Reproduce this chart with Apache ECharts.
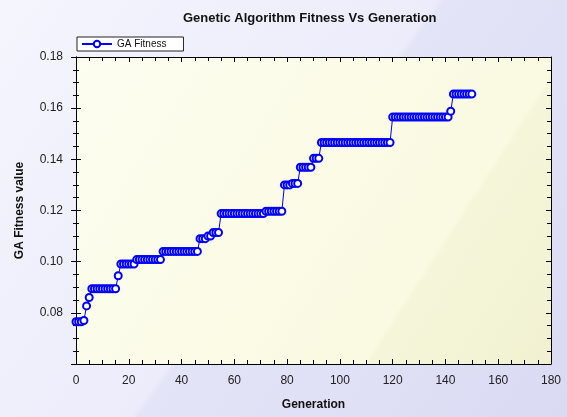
<!DOCTYPE html>
<html>
<head>
<meta charset="utf-8">
<script src="https://cdn.jsdelivr.net/npm/echarts@6/dist/echarts.min.js"></script>
<style>
  html, body { margin: 0; padding: 0; }
  #chart { width: 567px; height: 417px; }
</style>
</head>
<body>
<div id="chart"></div>
<script>
  // GA fitness per generation (0..150)
  const fitness = [
    0.0765, 0.0765, 0.0765, 0.0770, 0.0827, 0.0860, 0.0894, 0.0894, 0.0894, 0.0894,
    0.0894, 0.0894, 0.0894, 0.0894, 0.0894, 0.0894, 0.0945, 0.0991, 0.0991, 0.0991,
    0.0991, 0.0991, 0.0991, 0.1008, 0.1008, 0.1008, 0.1008, 0.1008, 0.1008, 0.1008,
    0.1008, 0.1008, 0.1008, 0.1040, 0.1040, 0.1040, 0.1040, 0.1040, 0.1040, 0.1040,
    0.1040, 0.1040, 0.1040, 0.1040, 0.1040, 0.1040, 0.1040, 0.1090, 0.1090, 0.1090,
    0.1100, 0.1100, 0.1114, 0.1114, 0.1114, 0.1188, 0.1188, 0.1188, 0.1188, 0.1188,
    0.1188, 0.1188, 0.1188, 0.1188, 0.1188, 0.1188, 0.1188, 0.1188, 0.1188, 0.1188,
    0.1188, 0.1188, 0.1197, 0.1197, 0.1197, 0.1197, 0.1197, 0.1197, 0.1197, 0.1300,
    0.1300, 0.1300, 0.1306, 0.1306, 0.1306, 0.1369, 0.1369, 0.1369, 0.1369, 0.1369,
    0.1404, 0.1404, 0.1404, 0.1466, 0.1466, 0.1466, 0.1466, 0.1466, 0.1466, 0.1466,
    0.1466, 0.1466, 0.1466, 0.1466, 0.1466, 0.1466, 0.1466, 0.1466, 0.1466, 0.1466,
    0.1466, 0.1466, 0.1466, 0.1466, 0.1466, 0.1466, 0.1466, 0.1466, 0.1466, 0.1466,
    0.1565, 0.1565, 0.1565, 0.1565, 0.1565, 0.1565, 0.1565, 0.1565, 0.1565, 0.1565,
    0.1565, 0.1565, 0.1565, 0.1565, 0.1565, 0.1565, 0.1565, 0.1565, 0.1565, 0.1565,
    0.1565, 0.1565, 0.1588, 0.1655, 0.1655, 0.1655, 0.1655, 0.1655, 0.1655, 0.1655,
    0.1655
  ];
  const generations = fitness.map((_, i) => i);

  const chart = echarts.init(document.getElementById('chart'));
  const font = 'Liberation Sans, Arial, sans-serif';
  const black = '#000';

  const xCommon = {
    type: 'value',
    min: 0,
    max: 180,
    interval: 20,
    splitLine: { show: false },
    axisLine: { show: true, onZero: false, lineStyle: { color: black, width: 1 } },
  };
  const yCommon = {
    type: 'value',
    min: 0.06,
    max: 0.18,
    interval: 0.02,
    splitLine: { show: false },
    axisLine: { show: true, onZero: false, lineStyle: { color: black, width: 1 } },
  };

  chart.setOption({
    backgroundColor: new echarts.graphic.LinearGradient(0, 0, 1, 1, [
      { offset: 0, color: '#f5f5fe' },
      { offset: 0.5, color: '#ececfb' },
      { offset: 0.51, color: '#e4e4f8' },
      { offset: 1, color: '#dadaf3' },
    ]),
    textStyle: { fontFamily: font },
    animation: false,
    title: {
      text: 'Genetic Algorithm Fitness Vs Generation',
      left: 178,
      top: 7,
      textStyle: { fontSize: 13, fontWeight: 'bold', color: '#111', fontFamily: font },
    },
    legend: {
      left: 77,
      top: 37,
      padding: [2, 17, 2, 4],
      itemWidth: 30,
      itemHeight: 8,
      itemGap: 4,
      backgroundColor: '#fff',
      borderColor: '#222',
      borderWidth: 1,
      borderRadius: 0,
      textStyle: { fontSize: 10, color: '#111', fontFamily: font },
      data: ['GA Fitness'],
    },
    grid: {
      left: 76,
      right: 16,
      top: 57,
      bottom: 53,
      show: true,
      borderWidth: 0,
      backgroundColor: new echarts.graphic.LinearGradient(0, 0, 1, 1, [
        { offset: 0, color: '#fdfdf0' },
        { offset: 0.72, color: '#fafae2' },
        { offset: 0.73, color: '#f5f5d9' },
        { offset: 1, color: '#f1f1d2' },
      ]),
    },
    xAxis: [
      {
        ...xCommon,
        position: 'bottom',
        name: 'Generation',
        nameLocation: 'middle',
        nameGap: 35,
        nameTextStyle: { fontSize: 12, fontWeight: 'bold', color: '#111', fontFamily: font },
        axisTick: { show: true, inside: true, length: 5, lineStyle: { color: black } },
        minorTick: { show: true, splitNumber: 4, length: 4, lineStyle: { color: black } },
        axisLabel: { fontSize: 12, color: '#222', margin: 11 },
      },
      {
        ...xCommon,
        position: 'top',
        axisTick: { show: true, inside: true, length: 5, lineStyle: { color: black } },
        minorTick: { show: true, splitNumber: 4, length: 4, lineStyle: { color: black } },
        axisLabel: { show: false },
      },
    ],
    yAxis: [
      {
        ...yCommon,
        position: 'left',
        name: 'GA Fitness value',
        nameLocation: 'middle',
        nameGap: 50,
        nameTextStyle: { fontSize: 12, fontWeight: 'bold', color: '#111', fontFamily: font },
        axisTick: { show: true, inside: false, length: 5, lineStyle: { color: black } },
        minorTick: { show: true, splitNumber: 4, length: 3, lineStyle: { color: black } },
        axisLabel: {
          fontSize: 12,
          color: '#222',
          margin: 13,
          showMinLabel: false,
          formatter: v => v.toFixed(2),
        },
      },
      {
        ...yCommon,
        position: 'left',
        axisTick: { show: true, inside: true, length: 5, lineStyle: { color: black } },
        minorTick: { show: true, splitNumber: 4, length: 3, lineStyle: { color: black } },
        axisLabel: { show: false },
      },
      {
        ...yCommon,
        position: 'right',
        axisTick: { show: true, inside: true, length: 5, lineStyle: { color: black } },
        minorTick: { show: true, splitNumber: 4, length: 4, lineStyle: { color: black } },
        axisLabel: { show: false },
      },
    ],
    series: [
      {
        name: 'GA Fitness',
        type: 'line',
        xAxisIndex: 0,
        yAxisIndex: 0,
        data: generations.map((g, i) => [g, fitness[i]]),
        symbol: 'emptyCircle',
        symbolSize: 7,
        color: '#0000ff',
        lineStyle: { color: '#0000ff', width: 1 },
        itemStyle: { color: '#0000ff', borderWidth: 1 },
      },
    ],
  });
</script>
</body>
</html>
